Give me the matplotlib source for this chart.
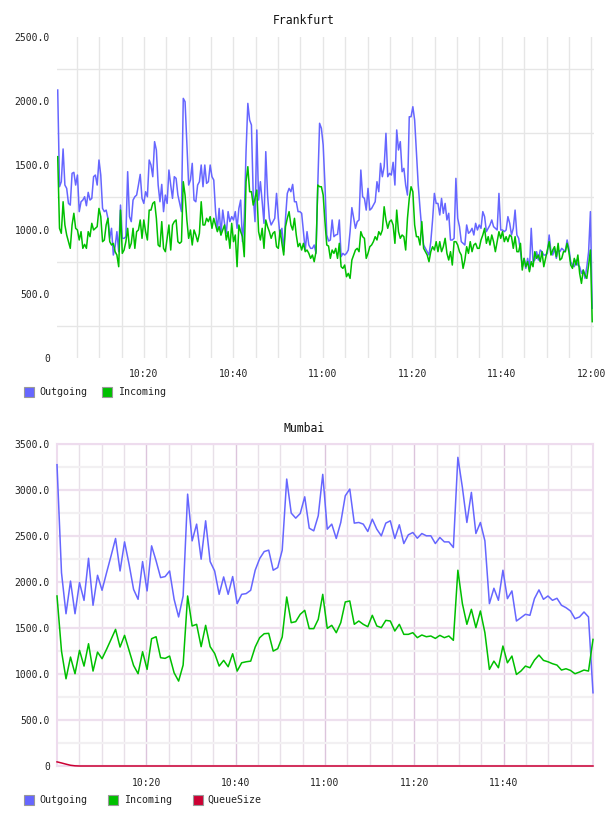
import matplotlib
matplotlib.use("Agg")
import matplotlib.pyplot as plt
from matplotlib.patches import Rectangle
import numpy as np

# ---------------- data ----------------
# Frankfurt (minutes after 10:00), ~30 s samples
fra_t_start, fra_t_end = 0.74, 120.2
fra_outgoing = [2087,1334,1373,1628,1347,1321,1204,1191,1438,1446,1347,1425,1140,1217,1230,1256,1186,1290,1230,1243,
    1412,1425,1347,1542,1425,1165,1140,1152,1088,932,1010,802,867,984,828,1191,932,932,945,1451,1101,1062,1230,1256,
    1269,1347,1430,1243,1204,1295,1256,1542,1503,1412,1685,1620,1347,1217,1352,1140,1269,1204,1464,1347,1243,1412,
    1399,1269,1204,1140,2022,1996,1672,1347,1386,1516,1230,1217,1347,1373,1503,1334,1503,1360,1373,1503,1412,1386,
    1140,997,1165,958,1152,1049,971,1140,1062,1101,1075,1140,1010,1165,1230,906,1088,1607,1983,1853,1815,1269,1062,
    1776,1230,1373,1217,1049,1607,1269,1088,1036,1062,1088,1282,1088,945,1010,828,1088,1282,1321,1295,1352,1217,1217,
    1140,1140,1127,984,841,984,880,854,854,880,815,1347,1828,
    1789,1659,1347,958,911,919,1075,945,958,963,1075,789,815,802,815,841,984,1171,1088,1010,1062,1075,1464,1256,1243,
    1152,1321,1152,1165,1191,1217,1373,1295,1516,1412,1490,1750,1412,1438,1425,1524,1347,1776,1620,1685,1451,1477,
    1347,1269,1879,1879,1957,1853,1607,1347,1165,997,880,854,828,802,906,1075,1282,1204,1204,1114,1243,1127,1204,1075,
    1127,919,919,932,1399,1088,1023,906,893,880,1036,971,984,1010,958,1049,997,1036,1010,1140,1101,984,1010,1036,1075,
    1023,1010,997,1282,997,997,984,997,1101,1049,958,1010,1152,958,932,828,711,776,698,776,685,1010,750,763,828,763,
    841,828,802,802,815,958,828,802,854,776,841,828,854,841,828,919,854,750,724,711,763,724,711,659,685,620,711,828,
    1140,387]
fra_incoming = [1568,1010,971,1217,1036,958,906,854,1036,1127,1010,997,919,984,854,885,854,984,945,1049,997,1010,1023,
    1165,1101,906,919,1036,1088,906,880,893,828,802,711,1152,815,841,906,1010,854,893,1010,854,984,997,1075,932,1075,
    984,919,1152,1152,1204,1217,1088,880,867,1062,854,828,932,1036,841,1036,1062,1075,906,893,906,1373,1269,1075,932,
    997,880,997,958,906,971,1217,1036,1036,1088,1062,1101,1010,1088,1036,984,1023,958,997,1036,919,984,854,1049,906,
    958,711,1036,984,945,789,1373,1490,1295,1295,1191,1243,1308,984,919,1010,854,1075,1023,984,932,971,984,867,854,
    997,893,802,1023,1088,1140,1036,997,1088,958,867,893,841,893,828,841,815,776,802,750,828,1347,1334,
    1334,1269,1062,880,872,776,841,815,854,776,893,711,698,724,633,659,620,763,802,841,854,828,984,945,932,776,815,
    867,880,906,945,919,984,958,997,1178,1075,1010,1062,1075,1036,893,1152,984,932,958,945,841,1088,1243,1334,1295,
    1036,945,945,880,1062,854,828,802,750,828,867,841,906,828,906,828,867,932,815,763,828,724,906,906,880,828,802,698,
    763,867,815,906,828,880,893,854,854,919,958,1010,893,945,880,958,906,828,906,984,932,984,906,945,906,958,945,854,
    945,828,828,893,685,776,711,750,672,750,711,828,776,802,750,828,711,776,841,906,802,841,867,789,893,763,776,828,
    828,893,828,724,698,776,724,802,659,581,685,646,620,724,841,283]

# Mumbai (minutes after 10:00), ~1 min samples
mum_t_start, mum_t_end = 0.0, 120.0
mum_outgoing = [3275,2100,1655,2010,1655,1994,1800,2258,1747,2073,1910,2100,2284,2473,2120,2436,2193,1920,1812,2222,
    1903,2393,2230,2048,2059,2120,1812,1620,1848,2955,2447,2629,2248,2665,2222,2120,1866,2055,1866,2059,1765,1866,
    1874,1910,2128,2255,2331,2346,2128,2157,2346,3119,2749,2694,2745,2926,2585,2556,2720,3170,2574,2629,2473,2647,
    2937,3010,2640,2647,2629,2549,2683,2574,2502,2640,2665,2473,2622,2418,2513,2538,2476,2527,2502,2502,2418,2484,
    2436,2436,2375,3355,3028,2647,2974,2527,2647,2447,1765,1932,1801,2128,1819,1903,1576,1612,1649,1638,1819,1914,
    1812,1848,1801,1823,1747,1721,1685,1601,1620,1674,1620,796]
mum_incoming = [1848,1249,948,1184,1003,1257,1086,1329,1032,1238,1166,1268,1376,1485,1293,1420,1257,1093,1003,1242,
    1050,1384,1405,1177,1170,1195,1013,923,1097,1848,1522,1540,1297,1529,1297,1224,1086,1148,1079,1220,1032,1122,
    1133,1140,1293,1395,1438,1442,1249,1275,1402,1837,1558,1569,1649,1692,1493,1493,1594,1866,1496,1529,1449,1558,
    1783,1794,1540,1576,1540,1514,1638,1522,1504,1583,1576,1467,1540,1431,1431,1449,1395,1424,1405,1413,1387,1420,
    1395,1413,1366,2128,1765,1540,1703,1504,1685,1449,1050,1140,1068,1304,1122,1195,995,1032,1086,1068,1151,1206,
    1148,1133,1112,1097,1043,1057,1039,1003,1021,1043,1032,1376]
mum_queue = [45,33,20,8,2] + [0] * (len(mum_outgoing) - 5)

fra_xticks = [20, 40, 60, 80, 100, 120]
fra_xlabels = ["10:20", "10:40", "11:00", "11:20", "11:40", "12:00"]
mum_xticks = [20, 40, 60, 80, 100]
mum_xlabels = ["10:20", "10:40", "11:00", "11:20", "11:40"]

C_OUT = "#6666ff"
C_IN = "#00c000"
C_Q = "#cc0033"
MONO = "DejaVu Sans Mono"
TXT = "#222222"

W, H = 608, 816
fig = plt.figure(figsize=(W / 100, H / 100), dpi=100)


def fx(px):
    return px / W


def fy(py):
    return 1 - py / H


def ylab(v):
    return "0" if v == 0 else f"{v:.1f}"


# ---------------- Frankfurt ----------------
ax1 = fig.add_axes([fx(57), fy(358), fx(594 - 57), (358 - 37) / H])
t1 = np.linspace(fra_t_start, fra_t_end, len(fra_outgoing))
t2 = np.linspace(fra_t_start, fra_t_end, len(fra_incoming))
ax1.plot(t1, fra_outgoing, color=C_OUT, lw=1.1, zorder=3)
ax1.plot(t2, fra_incoming, color=C_IN, lw=1.1, zorder=4)
ax1.set_xlim(0.58, 120.6)
ax1.set_ylim(0, 2500)
for s in ax1.spines.values():
    s.set_visible(False)
ax1.set_yticks(np.arange(0, 2501, 500))
ax1.set_yticklabels([ylab(v) for v in np.arange(0, 2501, 500)])
ax1.set_yticks(np.arange(250, 2500, 500), minor=True)
ax1.set_xticks(fra_xticks)
ax1.set_xticklabels(fra_xlabels)
ax1.set_xticks(np.arange(5, 121, 5), minor=True)
ax1.grid(False)
ax1.grid(which="minor", axis="y", color="#e6e6e6", lw=1)
ax1.grid(which="both", axis="x", color="#e6e6e6", lw=1)
ax1.tick_params(which="both", length=0)
ax1.tick_params(axis="y", pad=5, labelsize=7, labelcolor=TXT)
ax1.tick_params(axis="x", pad=8, labelsize=7, labelcolor=TXT)
for lab in ax1.get_xticklabels() + ax1.get_yticklabels():
    lab.set_fontfamily(MONO)
ax1.set_axisbelow(True)
fig.text(fx(304), fy(20), "Frankfurt", ha="center", va="center", fontsize=8.3, family=MONO, color="#111111")

# ---------------- Mumbai ----------------
ax2 = fig.add_axes([fx(57), fy(766), fx(593 - 57), (766 - 444) / H])
tm = np.linspace(mum_t_start, mum_t_end, len(mum_outgoing))
tmi = np.linspace(mum_t_start, mum_t_end, len(mum_incoming))
ax2.plot(tm, mum_outgoing, color=C_OUT, lw=1.1, zorder=3, clip_on=False)
ax2.plot(tmi, mum_incoming, color=C_IN, lw=1.1, zorder=4, clip_on=False)
ax2.plot(tm, mum_queue, color=C_Q, lw=1.1, zorder=5, clip_on=False)
ax2.set_xlim(0, 120)
ax2.set_ylim(0, 3500)
for s in ax2.spines.values():
    s.set_color("#eedcee")
    s.set_linewidth(1.5)
ax2.set_yticks(np.arange(0, 3501, 500))
ax2.set_yticklabels([ylab(v) for v in np.arange(0, 3501, 500)])
ax2.set_yticks(np.arange(250, 3500, 500), minor=True)
ax2.set_xticks(mum_xticks)
ax2.set_xticklabels(mum_xlabels)
ax2.set_xticks(np.arange(5, 120, 5), minor=True)
ax2.grid(False)
ax2.grid(which="major", axis="y", color="#eee0ee", lw=1.6)
ax2.grid(which="minor", axis="y", color="#f2f0f2", lw=1.6)
ax2.grid(which="major", axis="x", color="#dcc4dc", lw=1)
ax2.grid(which="minor", axis="x", color="#e8e0e8", lw=1)
ax2.tick_params(which="both", length=0)
ax2.tick_params(axis="y", pad=5, labelsize=7, labelcolor=TXT)
ax2.tick_params(axis="x", pad=9, labelsize=7, labelcolor=TXT)
for lab in ax2.get_xticklabels() + ax2.get_yticklabels():
    lab.set_fontfamily(MONO)
ax2.set_axisbelow(True)
fig.text(fx(304), fy(429), "Mumbai", ha="center", va="center", fontsize=8.3, family=MONO, color="#111111")


# ---------------- legends ----------------
def legend_item(x_sw, x_txt, yc, color, label):
    fig.patches.append(Rectangle((fx(x_sw), fy(yc + 5)), fx(10), 10 / H, transform=fig.transFigure,
                                 facecolor=color, edgecolor="#999999", lw=0.8))
    fig.text(fx(x_txt), fy(yc), label, ha="left", va="center", fontsize=7.2, family=MONO, color=TXT)


legend_item(24, 39, 392, C_OUT, "Outgoing")
legend_item(102, 118, 392, C_IN, "Incoming")
legend_item(24, 39, 800, C_OUT, "Outgoing")
legend_item(108, 124, 800, C_IN, "Incoming")
legend_item(193, 207, 800, C_Q, "QueueSize")

fig.savefig("out.png", dpi=100)
